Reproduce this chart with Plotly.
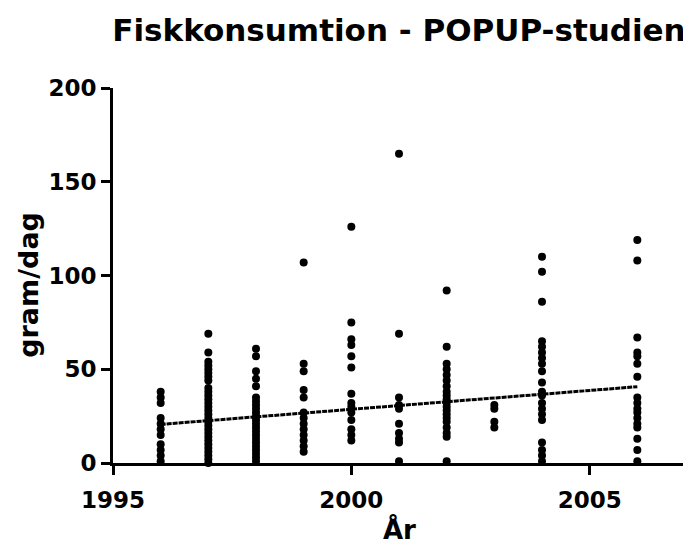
import plotly.graph_objects as go

title_text = "Fiskkonsumtion - POPUP-studien"
x_label = "År"
y_label = "gram/dag"

years = [1996, 1997, 1998, 1999, 2000, 2001, 2002, 2003, 2004, 2006]

v1996 = [38, 35, 32, 24, 21, 18, 15, 10, 7, 4, 1]
v1997 = [69, 59, 54, 52, 50, 48, 46, 44, 40, 38, 36, 34, 32, 30, 28, 26, 24, 22,
         20, 18, 16, 14, 12, 10, 8, 6, 4, 2, 0]
v1998 = [61, 57, 49, 45, 41, 35, 33, 31, 29, 27, 25, 23, 21, 19, 17, 15, 13, 11,
         9, 7, 5, 3, 1]
v1999 = [107, 53, 49, 39, 35, 27, 24, 21, 18, 15, 12, 9, 6]
v2000 = [126, 75, 66, 63, 57, 51, 37, 32, 30, 27, 23, 18, 15, 12]
v2001 = [165, 69, 35, 31, 29, 21, 16, 13, 11, 1]
v2002 = [92, 62, 53, 50, 47, 44, 41, 38, 36, 34, 32, 30, 28, 26, 24, 22, 19, 16, 14, 1]
v2003 = [31, 29, 22, 19]
v2004 = [110, 102, 86, 65, 62, 59, 56, 53, 49, 43, 38, 36, 32, 29, 26, 23, 11, 7, 4, 1]
v2006 = [119, 108, 67, 59, 57, 53, 46, 35, 32, 29, 27, 24, 21, 19, 13, 7, 1]

values_by_year = [v1996, v1997, v1998, v1999, v2000, v2001, v2002, v2003, v2004, v2006]

fit_years = [1996, 2006]
fit_values = [20.6, 40.7]

x_ticks = [1995, 2000, 2005]
y_ticks = [0, 50, 100, 150, 200]

xs, ys = [], []
for yr, vals in zip(years, values_by_year):
    xs += [yr] * len(vals)
    ys += vals

FONT = "DejaVu Sans, Liberation Sans, Arial, sans-serif"

fig = go.Figure()
fig.add_trace(go.Scatter(
    x=xs, y=ys, mode="markers",
    marker=dict(color="black", size=8, line=dict(width=0)),
    cliponaxis=False, showlegend=False, hoverinfo="x+y",
))
fig.add_trace(go.Scatter(
    x=fit_years, y=fit_values, mode="lines",
    line=dict(color="black", width=3, dash="5px,1px"),
    cliponaxis=False, showlegend=False,
))

# page body has an 8px margin, so the figure is sized to fit inside the window
fig.update_layout(
    width=683, height=540,
    margin=dict(l=105, r=6, t=80, b=85),
    paper_bgcolor="white", plot_bgcolor="white",
    font=dict(family=FONT, color="black", size=23, weight="bold"),
    title=dict(text=title_text, x=0.5, xref="paper", xanchor="center",
               y=1 - 11 / 540, yref="container", yanchor="top",
               font=dict(family=FONT, size=31, color="black", weight="bold")),
    xaxis=dict(range=[1995, 2007], tickvals=x_ticks, ticktext=[str(t) for t in x_ticks],
               showgrid=False, zeroline=False, showline=True, linecolor="black",
               linewidth=3, ticks="outside", ticklen=9, tickwidth=2.5, tickcolor="black",
               ticklabelstandoff=5,
               tickfont=dict(family=FONT, size=23, color="black", weight="bold")),
    yaxis=dict(range=[0, 200], tickvals=y_ticks, ticktext=[str(t) for t in y_ticks],
               showgrid=False, zeroline=False, showline=True, linecolor="black",
               linewidth=3, ticks="outside", ticklen=9, tickwidth=2.5, tickcolor="black",
               tickfont=dict(family=FONT, size=23, color="black", weight="bold")),
    annotations=[
        dict(text=y_label, xref="paper", yref="paper", x=-0.147, y=0.475,
             xanchor="center", yanchor="middle", textangle=-90, showarrow=False,
             font=dict(family=FONT, size=27, color="black", weight="bold")),
        dict(text=x_label, xref="paper", yref="paper", x=0.5, y=-0.176,
             xanchor="center", yanchor="middle", showarrow=False,
             font=dict(family=FONT, size=26, color="black", weight="bold")),
    ],
)

fig.write_html("out.html")
